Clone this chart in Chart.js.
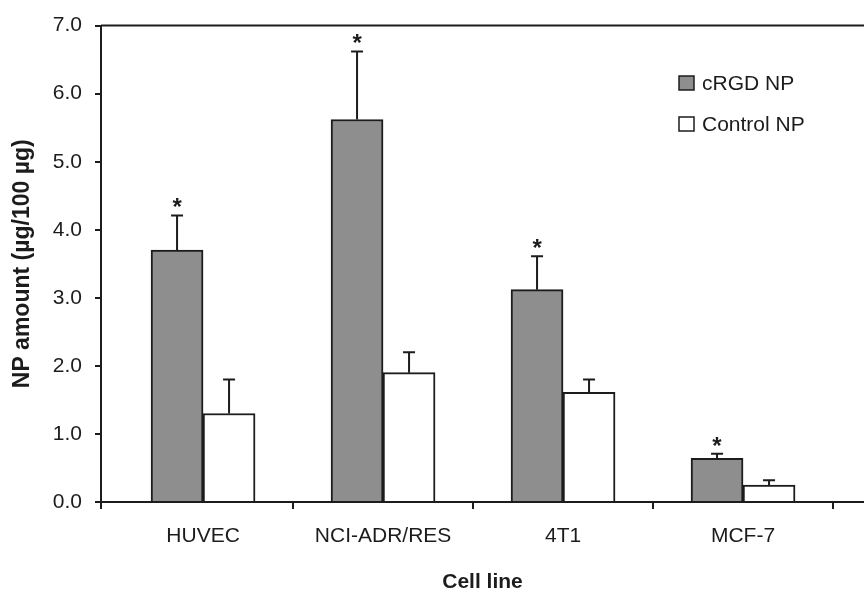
<!DOCTYPE html>
<html>
<head>
<meta charset="utf-8">
<script src="https://cdn.jsdelivr.net/npm/chart.js@4.4.0/dist/chart.umd.min.js"></script>
<style>
  body { margin: 0; background: #fff; }
  #wrap { width: 864px; height: 593px; position: relative; }
</style>
</head>
<body>
<div id="wrap"><canvas id="chart"></canvas></div>
<script>
// data
const cellLines = ['HUVEC', 'NCI-ADR/RES', '4T1', 'MCF-7'];
const crgdValues = [3.70, 5.62, 3.12, 0.64];
const crgdErrors = [0.51, 1.00, 0.49, 0.07];
const controlValues = [1.30, 1.90, 1.61, 0.25];
const controlErrors = [0.50, 0.30, 0.19, 0.07];
const significant = [true, true, true, true];
const yMax = 7;
const xBoundaries = [-0.567, 0.5, 1.5, 2.5, 3.5];

const ink = '#1c1c1c';
const grayFill = '#8e8e8e';
const fontName = '"Liberation Sans", Arial, sans-serif';

const chart = document.querySelector('#chart').getContext('2d');

// error bars, asterisks, top frame line and legend
const extras = {
    id: 'extras',
    afterDatasetsDraw(c) {
        const ctx = c.ctx;
        const y = c.scales.y;
        const area = c.chartArea;
        ctx.save();
        ctx.strokeStyle = ink;
        ctx.fillStyle = ink;
        ctx.lineWidth = 2;

        [crgdErrors, controlErrors].forEach((errs, di) => {
            const meta = c.getDatasetMeta(di);
            meta.data.forEach((bar, i) => {
                const v = c.data.datasets[di].data[i].y;
                const top = y.getPixelForValue(v + errs[i]);
                ctx.beginPath();
                ctx.moveTo(bar.x, bar.y);
                ctx.lineTo(bar.x, top);
                ctx.moveTo(bar.x - 6, top);
                ctx.lineTo(bar.x + 6, top);
                ctx.stroke();
                if (di === 0 && significant[i]) {
                    ctx.font = 'bold 24px ' + fontName;
                    ctx.textAlign = 'center';
                    ctx.textBaseline = 'alphabetic';
                    ctx.fillText('*', bar.x, top);
                }
            });
        });

        // top frame line
        ctx.beginPath();
        ctx.moveTo(area.left, area.top);
        ctx.lineTo(area.right, area.top);
        ctx.stroke();

        // legend
        ctx.font = '21px ' + fontName;
        ctx.textAlign = 'left';
        ctx.textBaseline = 'middle';
        ctx.lineWidth = 1.5;
        c.data.datasets.forEach((ds, i) => {
            const bx = 679, by = 76 + i * 41;
            ctx.fillStyle = ds.backgroundColor;
            ctx.fillRect(bx, by, 15, 14);
            ctx.strokeStyle = ink;
            ctx.strokeRect(bx, by, 15, 14);
            ctx.fillStyle = ink;
            ctx.fillText(ds.label, 702, by + 8);
        });
        ctx.restore();
    }
};

new Chart(chart, {
    type: 'bar',
    data: {
        datasets: [
            {
                label: 'cRGD NP',
                data: crgdValues.map((v, i) => ({ x: i, y: v })),
                backgroundColor: grayFill,
                borderColor: ink,
                borderWidth: 2,
                barThickness: 52
            },
            {
                label: 'Control NP',
                data: controlValues.map((v, i) => ({ x: i, y: v })),
                backgroundColor: '#ffffff',
                borderColor: ink,
                borderWidth: 2,
                barThickness: 52
            }
        ]
    },
    options: {
        responsive: true,
        maintainAspectRatio: false,
        animation: false,
        layout: { padding: { top: 23, left: 0, right: 0, bottom: 0 } },
        plugins: {
            legend: { display: false },
            tooltip: { enabled: false }
        },
        scales: {
            x: {
                type: 'linear',
                offset: false,
                min: xBoundaries[0],
                max: 3.672,
                afterBuildTicks(scale) {
                    const vals = xBoundaries.concat([0, 1, 2, 3]).sort((a, b) => a - b);
                    scale.ticks = vals.map(v => ({ value: v }));
                },
                afterFit(scale) { scale.height = 91; },
                ticks: {
                    autoSkip: false,
                    maxRotation: 0,
                    padding: 15,
                    color: ink,
                    font: { family: fontName, size: 21 },
                    callback: (v) => Number.isInteger(v) ? cellLines[v] : ''
                },
                grid: {
                    offset: false,
                    drawOnChartArea: false,
                    tickLength: 7,
                    lineWidth: 2,
                    color: (ctx) => ctx.tick && Number.isInteger(ctx.tick.value) ? 'rgba(0,0,0,0)' : ink
                },
                border: { color: ink, width: 2 },
                title: {
                    display: true,
                    text: 'Cell line',
                    color: ink,
                    font: { family: fontName, size: 21, weight: 'bold', lineHeight: 1 },
                    padding: { top: 0, bottom: 0 }
                }
            },
            y: {
                min: 0,
                max: yMax,
                afterFit(scale) { scale.width = 101; },
                ticks: {
                    stepSize: 1,
                    padding: 13,
                    color: ink,
                    font: { family: fontName, size: 21 },
                    callback: (v) => v.toFixed(1)
                },
                grid: {
                    drawOnChartArea: false,
                    tickLength: 6,
                    lineWidth: 2,
                    color: ink
                },
                border: { color: ink, width: 2 },
                title: {
                    display: true,
                    text: 'NP amount (µg/100 µg)',
                    color: ink,
                    font: { family: fontName, size: 23, weight: 'bold' },
                    padding: { top: 9, bottom: 0 }
                }
            }
        }
    },
    plugins: [extras]
});
</script>
</body>
</html>
